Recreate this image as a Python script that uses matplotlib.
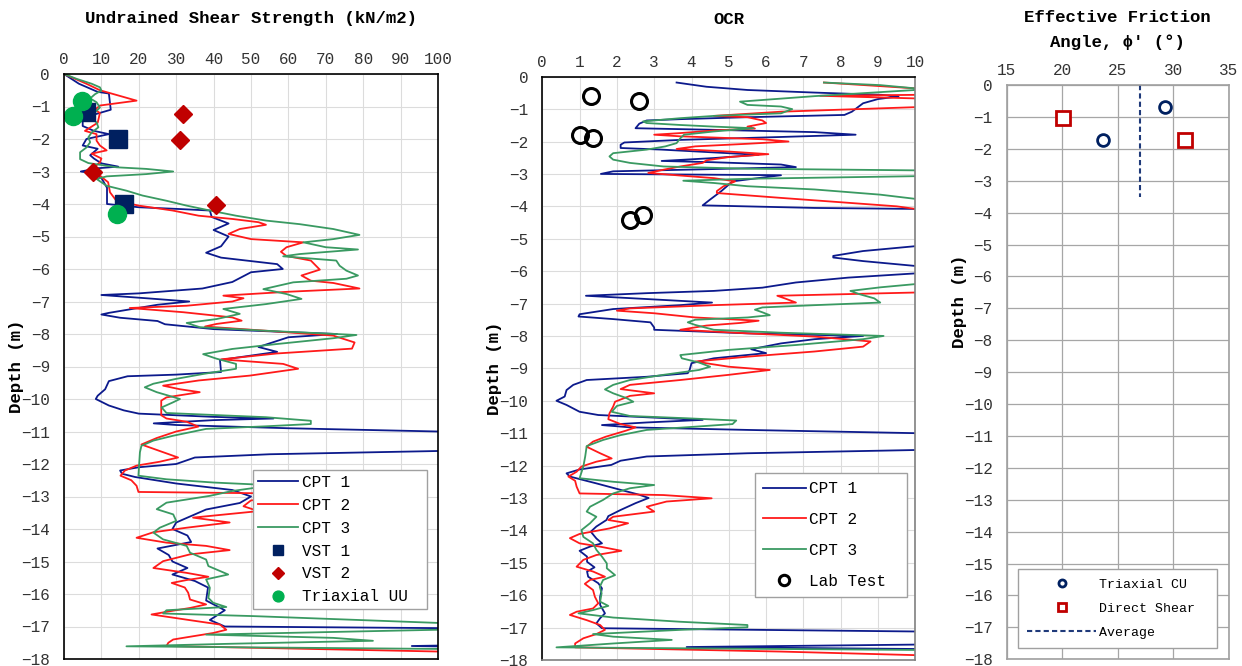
#
########################################################################
# Bibliotecas
########################################################################
#
import matplotlib
matplotlib.use("Agg")
from matplotlib import pyplot as plt

#
########################################################################
# Dados - Resistencia nao drenada (kN/m2)
########################################################################
#
Cpt1SuZ = [0, -0.3, -0.55, -0.6, -1.1, -1.25, -1.4, -1.6, -1.75, -1.85, -2.0, -2.2, -2.3, -2.5,
           -2.6, -2.75, -2.85, -2.9, -3.0, -3.05, -3.2, -3.5, -4.0, -4.1, -4.15, -4.2, -4.4, -4.6,
           -4.8, -5.0, -5.3, -5.5, -5.65, -5.85, -6.0, -6.1, -6.4, -6.6, -6.75, -6.8, -6.9, -7.0,
           -7.1, -7.35, -7.4, -7.5, -7.6, -7.7, -7.85, -8.0, -8.1, -8.4, -8.55, -8.8, -9.17, -9.25,
           -9.3, -9.45, -9.7, -9.9, -10.0, -10.2, -10.35, -10.45, -10.55, -10.6, -10.65, -10.75,
           -10.8, -10.9, -11.0, -11.1, -11.5, -11.6, -11.7, -11.8, -12.0, -12.1, -12.2, -12.3,
           -12.4, -12.6, -12.8, -13.0, -13.2, -13.4, -13.6, -13.8, -14.0, -14.2, -14.4, -14.6,
           -14.8, -15.0, -15.2, -15.4, -15.6, -15.8, -16.2, -16.5, -16.8, -17.0, -17.05, -17.1,
           -17.55, -17.6, -17.65, -17.7]
Cpt1Su = [0, 4, 9, 12, 12.5, 8, 5, 5, 8, 12, 6, 5, 9, 7,
          8, 10, 14.5, 9, 4.5, 7.5, 10, 11.5, 11.5, 20, 30, 39, 39.5, 44,
          40, 44, 42, 38, 42, 57, 58.5, 50, 45, 37, 20, 10, 22, 33.5,
          25, 12, 10, 15, 25, 27, 40, 73, 60, 52, 57, 41.7, 42, 30,
          17, 12, 11, 9, 8.5, 12, 16, 20, 40, 56, 40, 24,
          30, 60, 100, 120, 120, 100, 55, 35, 30, 20, 15, 15.5,
          19, 30, 45, 50, 47, 38, 34, 30, 29, 33, 34, 25,
          28, 29, 33, 29, 35, 38.5, 38, 43, 39, 43, 100, 120,
          120, 93, 120, 120]

Cpt2SuZ = [0, -0.3, -0.5, -0.82, -0.97, -1.1, -1.2, -1.5, -1.75, -1.85, -2.05, -2.2, -2.35,
           -2.45, -2.6, -2.72, -2.87, -3.13, -3.33, -3.64, -3.9, -4.05, -4.2, -4.36, -4.46, -4.56,
           -4.64, -4.77, -4.92, -5.08, -5.18, -5.33, -5.47, -5.6, -5.74, -6.02, -6.2, -6.36, -6.43,
           -6.6, -6.7, -6.82, -6.9, -7.0, -7.13, -7.2, -7.33, -7.49, -7.59, -7.69, -7.77, -7.9,
           -8.05, -8.26, -8.45, -8.6, -8.78, -8.92, -9.07, -9.28, -9.43, -9.59, -9.7, -9.79, -9.95,
           -10.05, -10.5, -10.6, -10.7, -10.85, -11.0, -11.2, -11.4, -11.6, -11.8, -11.93, -12.05,
           -12.2, -12.36, -12.5, -12.67, -12.86, -12.9, -13.0, -13.12, -13.3, -13.45, -13.65,
           -13.8, -13.96, -14.1, -14.27, -14.42, -14.52, -14.65, -14.78, -14.99, -15.2, -15.35,
           -15.47, -15.57, -15.66, -15.8, -15.96, -16.17, -16.32, -16.43, -16.53, -16.63, -16.79,
           -16.94, -17.1, -17.2, -17.3, -17.4, -17.5, -17.6, -17.77, -17.85]
Cpt2Su = [0, 6, 9.6, 19.4, 9.6, 8.3, 9.6, 9, 5.6, 8.7, 8.7, 9.6, 11.4,
          7.4, 10, 9.6, 8, 9.6, 11.8, 12.3, 14, 20, 29, 36, 45, 52,
          54, 47, 44, 50, 64, 59.5, 58, 59.5, 66, 68.4, 63.5, 66, 72,
          79, 60, 42.6, 48, 45, 32.8, 17.6, 31.9, 45, 47.5, 40.8, 37.7, 54,
          72, 77.7, 77, 56.8, 42, 58.6, 62.6, 49.7, 36, 26.5, 31, 36.3, 27.4,
          26, 26, 27.4, 32.8, 35.9, 30, 24.8, 20.7, 25.6, 30.5, 25.6, 19.4,
          16.3, 15.1, 18, 19.4, 19.9, 52, 62, 50, 48, 52, 34.5,
          44.3, 32.8, 23.9, 19.4, 27.4, 38, 44.3, 33.7, 26.5, 23.9, 32.8,
          38.6, 32.8, 28.8, 32.3, 33.2, 33.7, 38, 33.7, 28.3, 23.4, 32.8,
          41.7, 43.4, 39.9, 34.5, 29.2, 27.9, 27.4, 100, 120]

Cpt3SuZ = [0, -0.15, -0.3, -0.41, -0.51, -0.62, -0.75, -0.87, -1.03, -1.18, -1.33, -1.49, -1.64,
           -1.8, -1.95, -2.1, -2.26, -2.41, -2.62, -2.74, -2.87, -2.92, -3.0, -3.08, -3.15, -3.23,
           -3.44, -3.59, -3.74, -3.9, -4.05, -4.2, -4.36, -4.51, -4.62, -4.77, -4.95, -5.08, -5.18,
           -5.33, -5.4, -5.54, -5.61, -5.74, -5.9, -6.05, -6.2, -6.3, -6.41, -6.62, -6.77, -6.92,
           -7.08, -7.23, -7.38, -7.54, -7.66, -7.79, -7.9, -8.03, -8.13, -8.31, -8.46, -8.62, -8.76,
           -8.92, -9.07, -9.23, -9.38, -9.53, -9.64, -9.79, -10.0, -10.1, -10.26, -10.43, -10.56,
           -10.67, -10.77, -10.84, -10.92, -11.13, -11.28, -11.44, -11.64, -12.36, -12.47, -12.57,
           -12.65, -12.75, -12.83, -12.98, -13.19, -13.39, -13.55, -13.75, -13.96, -14.11, -14.32,
           -14.52, -14.73, -14.94, -15.14, -15.4, -15.55, -15.81, -16.12, -16.27, -16.4, -16.5,
           -16.6, -16.68, -16.89, -16.95, -17.05, -17.1, -17.25, -17.35, -17.44, -17.53, -17.61,
           -17.69, -17.75]
Cpt3Su = [0, 3.4, 7.4, 9.6, 10, 8.3, 7, 8.7, 9.6, 8.3, 7, 8.7, 9.2,
          7.4, 6.5, 7, 6, 4.3, 4.3, 6.5, 14, 22, 29.2, 22, 11.4, 8.7,
          11.4, 16.7, 21, 27.4, 32.8, 39, 46, 54, 63, 72, 79, 72, 64,
          70, 78.6, 63, 58.6, 72.8, 73.7, 75.5, 78.6, 75.5, 61.3, 53.3, 59.5, 63.5,
          54, 42.6, 47, 40.8, 32.8, 36.3, 54, 78.2, 72, 56.8, 45, 37.2, 40.8,
          46, 46, 37.2, 30, 23.9, 21.6, 24.8, 31, 29.2, 26.1, 27.4, 54,
          66, 66, 54, 38, 29.2, 23.9, 20.7, 20.3, 19.9, 27.4, 40,
          55, 50, 45, 39, 27.4, 24.8, 29.2, 30, 25.6, 23.9, 26.5,
          32.8, 33.7, 38, 38.6, 43.9, 38, 39, 38.6, 39.9, 43.4, 27.4,
          26.5, 50.6, 100, 120, 120, 100, 38, 72, 82.6, 45, 16.7,
          100, 120]

Vst1Su = [6, 14.5, 16]
Vst1Z = [-1.18, -2.0, -4.0]
Vst2Su = [31.9, 31, 7.8, 40.6]
Vst2Z = [-1.23, -2.02, -3.03, -4.02]
TriaxUuSu = [4.9, 2.3, 14.2]
TriaxUuZ = [-0.82, -1.3, -4.32]

#
########################################################################
# Dados - OCR
########################################################################
#
Cpt1OcrZ = [-0.18, -0.31, -0.41, -0.49, -0.56, -0.61, -0.69, -0.82, -1.08, -1.18, -1.25, -1.31,
            -1.35, -1.45, -1.59, -1.64, -1.71, -1.79, -1.86, -1.95, -2.03, -2.1, -2.2, -2.25,
            -2.36, -2.41, -2.51, -2.6, -2.64, -2.71, -2.79, -2.85, -2.92, -3.0, -3.04, -3.23,
            -3.53, -3.79, -3.97, -4.05, -4.08, -4.15, -5.15, -5.23, -5.38, -5.53, -5.58, -5.69,
            -5.84, -5.9, -6.0, -6.07, -6.2, -6.35, -6.51, -6.61, -6.68, -6.76, -6.86, -6.97,
            -7.05, -7.17, -7.33, -7.4, -7.48, -7.58, -7.74, -7.81, -7.92, -8.0, -8.1, -8.23,
            -8.41, -8.53, -8.69, -8.84, -9.05, -9.15, -9.26, -9.36, -9.51, -9.67, -9.87, -10.0,
            -10.13, -10.34, -10.44, -10.51, -10.59, -10.67, -10.75, -10.82, -10.9, -11.0, -11.08,
            -11.45, -11.52, -11.62, -11.72, -11.85, -11.98, -12.12, -12.24, -12.34, -12.55,
            -12.75, -12.9, -13.0, -13.16, -13.37, -13.56, -13.68, -13.88, -14.04, -14.25, -14.4,
            -14.5, -14.63, -14.81, -14.97, -15.14, -15.27, -15.43, -15.63, -15.79, -16.05, -16.3,
            -16.56, -16.71, -16.87, -17.02, -17.12, -17.2, -17.5, -17.6, -17.66, -17.72]
Cpt1Ocr = [3.6, 4.4, 5.5, 7.3, 9.1, 9.55, 9.0, 8.6, 8.3, 8.1, 5.5, 3.7,
           2.8, 2.6, 2.5, 4.6, 7.3, 8.4, 6.4, 3.7, 2.2, 2.1, 2.1, 3.2,
           5.0, 5.8, 4.6, 3.2, 4.6, 6.4, 6.8, 4.6, 1.9, 1.57, 6.4, 5.1,
           4.8, 4.5, 4.3, 7.3, 10, 12, 12, 10, 8.6, 7.8, 7.8, 8.6,
           10, 12, 12, 10, 8.2, 6.8, 5.9, 4.6, 2.8, 1.17, 2.8, 4.55,
           3.7, 1.9, 1.0, 0.97, 1.9, 2.9, 3.0, 3.0, 5.5, 8.6, 7.3, 6.4,
           5.6, 6.0, 4.6, 4.0, 3.95, 3.9, 2.8, 1.19, 0.83, 0.65, 0.6, 0.38,
           0.65, 1.0, 1.5, 2.8, 4.3, 2.8, 1.6, 2.35, 5.5, 10, 12,
           12, 10, 5.5, 2.8, 2.1, 1.85, 1.0, 0.65, 0.74, 1.45,
           2.1, 2.6, 2.85, 2.5, 2.1, 1.77, 1.72, 1.45, 1.3, 1.45, 1.6,
           1.28, 1.0, 1.2, 1.2, 1.4, 1.2, 1.23, 1.5, 1.6, 1.55, 1.55,
           1.68, 1.55, 1.45, 1.6, 10, 12, 12, 3.87, 10, 12]

Cpt2OcrZ = [-0.18, -0.29, -0.36, -0.42, -0.52, -0.56, -0.59, -0.67, -0.72, -0.9, -0.94, -1.08,
            -1.21, -1.25, -1.35, -1.43, -1.54, -1.6, -1.66, -1.74, -1.79, -1.84, -1.93, -2.0,
            -2.07, -2.15, -2.23, -2.31, -2.39, -2.48, -2.58, -2.66, -2.77, -2.87, -2.97, -3.05,
            -3.13, -3.23, -3.38, -3.53, -3.59, -3.74, -3.89, -4.0, -4.08, -4.15, -6.6, -6.66,
            -6.76, -6.84, -6.97, -7.05, -7.15, -7.22, -7.3, -7.43, -7.53, -7.6, -7.68, -7.81,
            -7.92, -8.02, -8.17, -8.33, -8.48, -8.64, -8.79, -8.95, -9.05, -9.2, -9.36, -9.51,
            -9.64, -9.77, -9.85, -10.03, -10.18, -10.39, -10.57, -10.72, -10.82, -10.92, -11.11,
            -11.26, -11.42, -11.62, -11.78, -11.88, -12.03, -12.19, -12.34, -12.47, -12.65,
            -12.86, -12.91, -13.01, -13.11, -13.27, -13.42, -13.58, -13.68, -13.78, -13.94,
            -14.11, -14.24, -14.4, -14.5, -14.63, -14.76, -14.91, -15.12, -15.27, -15.43, -15.53,
            -15.65, -15.84, -16.05, -16.25, -16.41, -16.51, -16.61, -16.77, -16.92, -17.07,
            -17.2, -17.33, -17.49, -17.61, -17.74, -17.85, -17.9]
Cpt2Ocr = [7.55, 9.06, 10, 12, 12, 10, 7.45, 10, 12, 12, 10, 6.4,
           4.6, 5.5, 5.9, 6.0, 5.5, 5.7, 4.6, 3.7, 3.0, 3.7, 5.9, 6.6,
           5.5, 4.1, 3.6, 5.0, 6.06, 5.0, 4.4, 4.3, 3.7, 3.25, 2.84, 3.7,
           4.6, 5.17, 4.86, 4.68, 4.68, 6.4, 8.2, 9.5, 10, 12, 12, 10,
           6.3, 6.5, 6.8, 4.6, 2.35, 2.0, 3.0, 4.1, 5.8, 5.3, 4.4, 3.7,
           5.5, 7.3, 8.8, 8.6, 7.3, 5.5, 4.1, 5.0, 6.1, 5.0, 3.7, 2.35,
           2.1, 3.0, 2.35, 1.95, 1.9, 1.8, 1.77, 2.1, 2.5, 2.25, 1.7,
           1.36, 1.19, 1.55, 1.86, 1.45, 1.05, 0.92, 0.7, 0.88, 0.92,
           1.0, 3.25, 4.54, 3.33, 2.8, 3.0, 1.9, 1.77, 2.3, 1.8,
           1.0, 0.74, 1.0, 1.54, 2.12, 1.45, 1.1, 0.92, 1.36, 1.68, 1.28,
           1.14, 1.36, 1.41, 1.5, 1.36, 0.92, 0.74, 1.19, 1.55, 1.68,
           1.45, 1.1, 0.88, 0.88, 6.4, 10, 12]

Cpt3OcrZ = [-0.18, -0.26, -0.36, -0.4, -0.41, -0.6, -0.77, -0.87, -0.92, -1.0, -1.13, -1.21,
            -1.28, -1.38, -1.43, -1.49, -1.54, -1.59, -1.69, -1.79, -1.9, -2.05, -2.15, -2.25,
            -2.36, -2.46, -2.56, -2.66, -2.77, -2.84, -2.89, -2.95, -3.03, -3.07, -3.15, -3.21,
            -3.28, -3.38, -3.48, -3.64, -3.77, -3.85, -6.35, -6.4, -6.5, -6.61, -6.71, -6.84,
            -6.97, -7.05, -7.12, -7.19, -7.27, -7.36, -7.43, -7.5, -7.58, -7.66, -7.81, -7.9,
            -8.0, -8.1, -8.28, -8.43, -8.59, -8.69, -8.82, -8.95, -9.05, -9.2, -9.36, -9.51,
            -9.65, -9.77, -9.92, -10.03, -10.16, -10.34, -10.47, -10.54, -10.61, -10.72, -10.8,
            -10.9, -11.06, -11.21, -11.4, -11.72, -12.03, -12.39, -12.5, -12.6, -12.7, -12.86,
            -13.06, -13.27, -13.42, -13.58, -13.78, -13.99, -14.2, -14.4, -14.6, -14.81, -15.02,
            -15.17, -15.38, -15.53, -15.74, -15.94, -16.2, -16.33, -16.46, -16.56, -16.69,
            -16.82, -16.92, -16.99, -17.07, -17.2, -17.28, -17.38, -17.49, -17.61, -17.69, -17.75]
Cpt3Ocr = [7.55, 9.06, 10, 12, 10, 7.3, 5.3, 5.5, 6.4, 6.7, 6.4, 4.6,
           3.7, 2.7, 2.8, 3.7, 4.6, 5.66, 4.6, 3.8, 3.7, 3.6, 3.3, 2.8,
           1.9, 1.8, 1.9, 2.35, 3.25, 5.5, 10, 12, 12, 10, 5.5, 3.78,
           4.6, 5.5, 7.3, 9.06, 10, 12, 12, 10, 9.06, 8.26, 8.5, 8.9,
           9.06, 7.3, 5.9, 5.7, 5.9, 6.1, 5.5, 4.1, 3.9, 4.1, 4.6, 6.4,
           9.15, 8.6, 6.8, 5.0, 3.7, 3.74, 4.2, 4.5, 4.2, 3.25, 2.35, 1.9,
           1.68, 1.9, 2.26, 2.44, 2.0, 1.86, 2.35, 3.87, 5.2, 5.1, 4.1,
           2.8, 2.1, 1.63, 1.19, 1.15, 1.1, 1.0, 1.9, 3.0, 2.35, 1.9,
           1.63, 1.28, 1.19, 1.45, 1.28, 1.05, 1.1, 1.36, 1.45, 1.6, 1.73,
           1.73, 1.95, 1.63, 1.54, 1.59, 1.55, 1.77, 1.36, 0.97, 1.9,
           3.7, 5.5, 5.5, 3.7, 1.36, 1.9, 3.47, 1.9, 0.38, 10, 12]

LabOcr = [1.31, 2.58, 1.01, 1.37, 2.69, 2.35]
LabZ = [-0.61, -0.75, -1.79, -1.88, -4.28, -4.41]

#
########################################################################
# Dados - Angulo de atrito efetivo
########################################################################
#
TriaxCuPhi = [23.65, 29.3]
TriaxCuZ = [-1.71, -0.70]
DirShearPhi = [20.05, 31.07]
DirShearZ = [-1.02, -1.71]
MediaPhi = [27.0, 27.0]
MediaZ = [0.0, -3.5]

#
########################################################################
# Definicoes Gerais
########################################################################
#
plt.rcParams['font.family'] = ['Liberation Mono', 'DejaVu Sans Mono']
CorCpt1 = "#0c1a8c"
CorCpt2 = "#ff1a1a"
CorCpt3 = "#3a9a62"
CorNavy = "#002060"
CorVermelho = "#c00000"
CorVerde = "#00b050"
LarguraLinha = 1.3
W, H = 1242, 666


def Formatar(ax, xlim, xticks, grade, labelx, labely=0.5):
    ax.set_xlim(*xlim)
    ax.set_ylim(-18, 0)
    ax.set_xticks(xticks)
    ax.set_yticks(range(-18, 1))
    ax.xaxis.tick_top()
    ax.tick_params(axis='both', length=0, labelsize=11.5, labelcolor='#333333')
    ax.tick_params(axis='x', pad=5)
    ax.tick_params(axis='y', pad=10)
    ax.grid(True, color=grade, linewidth=0.9 if grade != '#dcdcdc' else 0.8)
    ax.set_axisbelow(True)
    ax.set_ylabel("Depth (m)", fontsize=12.5, fontweight='bold')
    ax.yaxis.set_label_coords(labelx, labely)


def Legenda(ax, caixa, tamanho, **kw):
    leg = ax.legend(loc='lower left', bbox_to_anchor=caixa, mode='expand', borderaxespad=0,
                    fontsize=tamanho, fancybox=False, framealpha=1, edgecolor='#a0a0a0',
                    handletextpad=0.2, **kw)
    leg.get_frame().set_linewidth(1.0)
    return leg


Grafico = plt.figure(figsize=(W / 100, H / 100), dpi=100)

#
########################################################################
# Painel 1 - Undrained Shear Strength
########################################################################
#
Ax1 = Grafico.add_axes([64 / W, 1 - 659 / H, 374 / W, 585 / H])
Formatar(Ax1, (0, 100), range(0, 101, 10), '#dcdcdc', -0.107)
Ax1.plot(Cpt1Su, Cpt1SuZ, color=CorCpt1, lw=LarguraLinha, label="CPT 1")
Ax1.plot(Cpt2Su, Cpt2SuZ, color=CorCpt2, lw=LarguraLinha, label="CPT 2")
Ax1.plot(Cpt3Su, Cpt3SuZ, color=CorCpt3, lw=LarguraLinha, label="CPT 3")
Ax1.plot(Vst1Su, Vst1Z, 's', color=CorNavy, ms=13, label="VST 1")
Ax1.plot(Vst2Su, Vst2Z, 'D', color=CorVermelho, ms=9.5, label="VST 2")
Ax1.plot(TriaxUuSu, TriaxUuZ, 'o', color=CorVerde, ms=13, label="Triaxial UU")
for s in Ax1.spines.values():
    s.set_color('black')
    s.set_linewidth(1.2)
Legenda(Ax1, (0.505, 0.085, 0.465, 0.2), 11.5, handlelength=2.55, labelspacing=0.5,
        markerscale=0.6, borderpad=0.3)
Grafico.text((64 + 438) / 2 / W, 1 - 18 / H, "Undrained Shear Strength (kN/m2)",
             ha='center', va='center', fontsize=12.5, fontweight='bold')

#
########################################################################
# Painel 2 - OCR
########################################################################
#
Ax2 = Grafico.add_axes([542.3 / W, 1 - 660 / H, 373 / W, 583.3 / H])
Formatar(Ax2, (0, 10), range(0, 11), '#dcdcdc', -0.109)
Ax2.plot(Cpt1Ocr, Cpt1OcrZ, color=CorCpt1, lw=LarguraLinha, label="CPT 1")
Ax2.plot(Cpt2Ocr, Cpt2OcrZ, color=CorCpt2, lw=LarguraLinha, label="CPT 2")
Ax2.plot(Cpt3Ocr, Cpt3OcrZ, color=CorCpt3, lw=LarguraLinha, label="CPT 3")
Ax2.plot(LabOcr, LabZ, 'o', mfc='none', mec='black', mew=2.2, ms=11.5, label="Lab Test")
for nome, s in Ax2.spines.items():
    s.set_color('black' if nome in ('top', 'left') else '#808080')
    s.set_linewidth(1.2)
Legenda(Ax2, (0.570, 0.108, 0.4075, 0.2), 11.5, handlelength=2.7, labelspacing=1.0,
        markerscale=0.65, borderpad=0.5)
Grafico.text(728.5 / W, 1 - 19 / H, "OCR", ha='center', va='center',
             fontsize=12.5, fontweight='bold')

#
########################################################################
# Painel 3 - Effective Friction Angle
########################################################################
#
Ax3 = Grafico.add_axes([1006.7 / W, 1 - 659.3 / H, 222 / W, 574.3 / H])
Formatar(Ax3, (15, 35), range(15, 36, 5), '#a6a6a6', -0.179, 0.624)
Ax3.plot(TriaxCuPhi, TriaxCuZ, 'o', mfc='white', mec=CorNavy, mew=2.0, ms=8.5,
         label="Triaxial CU")
Ax3.plot(DirShearPhi, DirShearZ, 's', mfc='white', mec=CorVermelho, mew=2.0, ms=9.5,
         label="Direct Shear")
Ax3.plot(MediaPhi, MediaZ, '--', color='#1f3a7a', lw=1.5, dashes=(2.5, 1.5),
         label="Average")
for s in Ax3.spines.values():
    s.set_color('#a0a0a0')
    s.set_linewidth(1.2)
Legenda(Ax3, (0.051, 0.0197, 0.896, 0.14), 9.5, handlelength=5.2, labelspacing=0.9,
        markerscale=0.6, borderpad=0.7)
Grafico.text(1117.7 / W, 1 - 18 / H, "Effective Friction", ha='center', va='center',
             fontsize=12.5, fontweight='bold')
Grafico.text(1117.7 / W, 1 - 42 / H, "Angle, \u03d5' (\u00b0)", ha='center', va='center',
             fontsize=12.5, fontweight='bold')

Grafico.savefig("out.png", dpi=100)

########################################################################
# FIM DO PROGRAMA
########################################################################
